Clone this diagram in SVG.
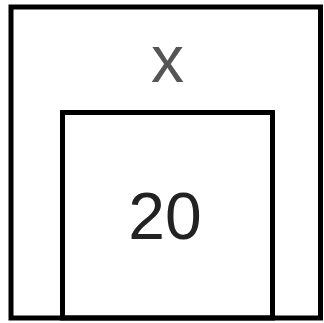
<svg xmlns="http://www.w3.org/2000/svg" width="324" height="323" viewBox="0 0 324 323">
<style>
.box{fill:none;stroke:#000;stroke-width:5}
.t{font-family:"Liberation Sans",Arial,sans-serif;font-size:66px;text-anchor:middle}
</style>
<rect width="324" height="323" fill="#fff"/>
<g id="outer">
<rect class="box" x="11" y="7" width="309.5" height="311"/>
<text class="t" x="167.5" y="82" fill="#555">x</text>
</g>
<g id="inner">
<rect class="box" x="62.5" y="112.5" width="210" height="205.5"/>
<text class="t" x="165" y="239" fill="#222">20</text>
</g>
<g id="connectors"></g>
</svg>
